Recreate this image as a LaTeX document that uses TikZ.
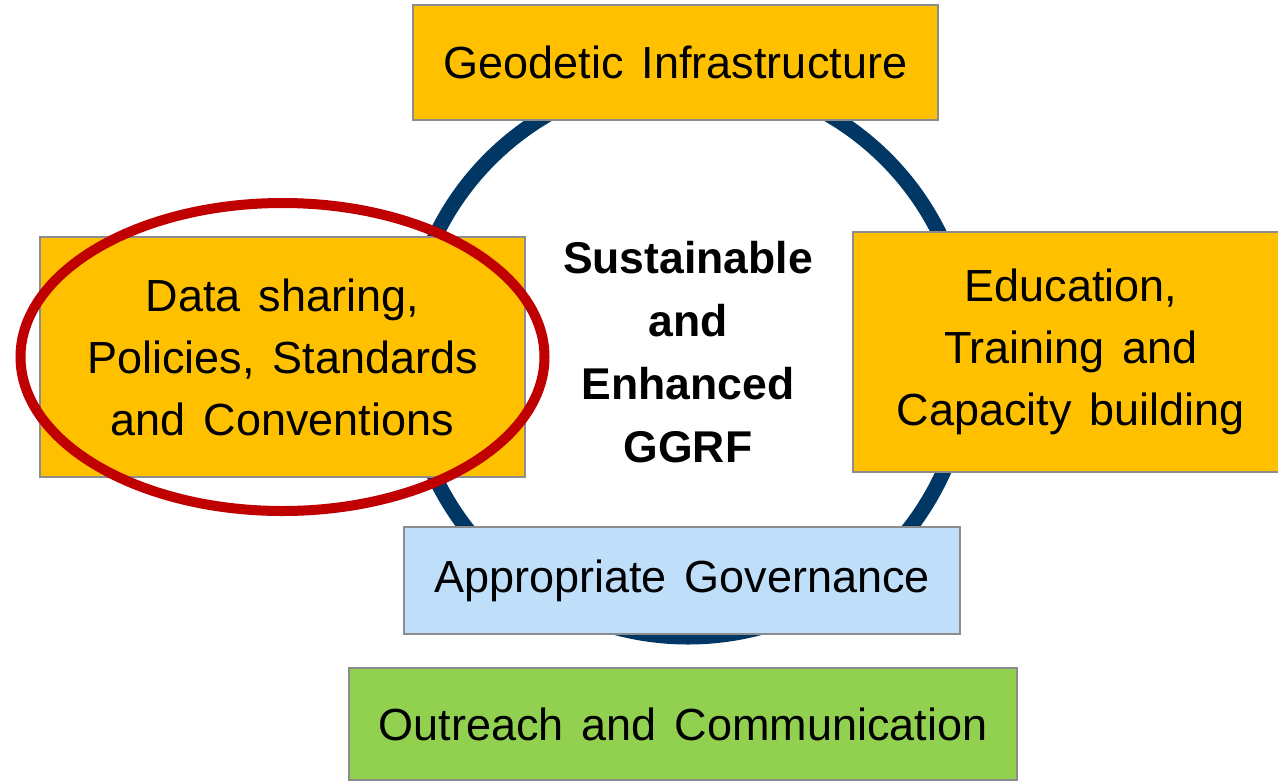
\documentclass[tikz,border=0pt]{standalone}
\usepackage{fontspec}
\setmainfont{Liberation Sans}
\definecolor{gold}{RGB}{255,192,0}
\definecolor{paleblue}{RGB}{190,222,250}
\definecolor{leafgreen}{RGB}{146,208,80}
\definecolor{ringblue}{RGB}{0,55,100}
\definecolor{markred}{RGB}{192,0,0}
\definecolor{boxedge}{RGB}{140,140,140}
\newcommand\boxfont{\fontsize{45}{62}\selectfont\spaceskip=0.4em plus 0.1em\relax}
\newcommand\hubfont{\fontsize{44.5}{63}\selectfont\bfseries}
\begin{document}
\begin{tikzpicture}[x=1pt,y=-1pt,
  box/.style={draw=boxedge, line width=2pt, inner sep=0pt, align=center, font=\boxfont},
  goldbox/.style={box, fill=gold},
  ring/.style={draw=ringblue, line width=15pt},
  marker/.style={draw=markred, line width=10pt}]
\useasboundingbox (0,0) rectangle (1278,780);
\begin{scope}
\clip (0,0) rectangle (1278,780);
% the cycle behind the boxes
\draw[ring] (688,357) circle [radius=280];
% surrounding pillars
\node[goldbox, minimum width=525, minimum height=115] (geo) at (675.5,62.5) {Geodetic Infrastructure};
\node[goldbox, minimum width=485, minimum height=240] (data) at (282.5,357) {Data sharing,\\Policies, Standards\\and Conventions};
\node[goldbox, minimum width=436, minimum height=240] (edu) at (1071,352) {Education,\\Training and\\Capacity building};
\node[box, fill=paleblue, minimum width=556, minimum height=107] (gov) at (682,580.5) {Appropriate Governance};
\node[box, fill=leafgreen, minimum width=668, minimum height=112] (out) at (683,724) {Outreach and Communication};
% highlight around the data-sharing pillar
\draw[marker] (data.center) ellipse [x radius=262, y radius=154];
% hub label
\node[align=center, font=\hubfont] (hub) at (688,352) {Sustainable\\and\\Enhanced\\GGRF};
\end{scope}
\end{tikzpicture}
\end{document}
